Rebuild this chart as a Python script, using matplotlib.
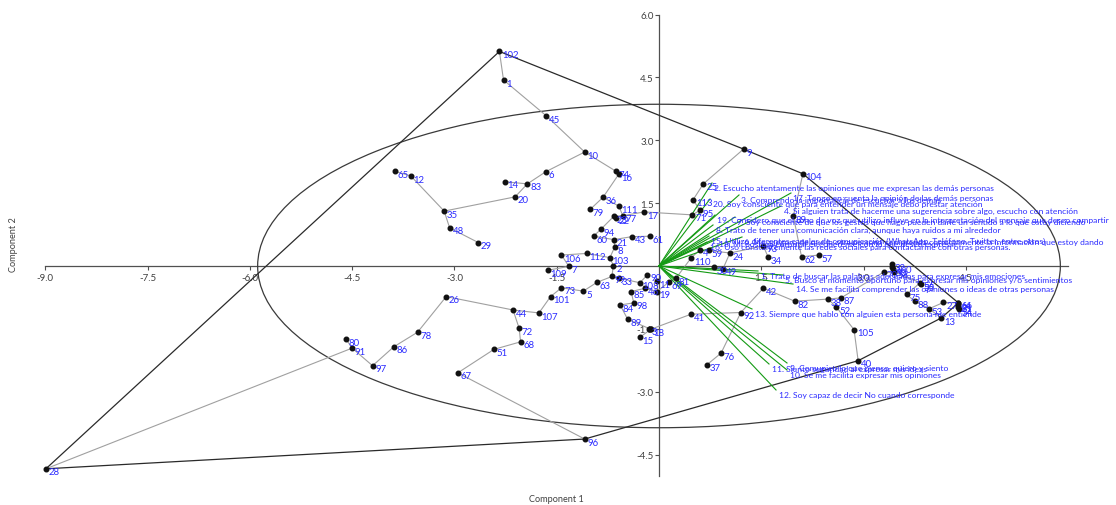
import matplotlib
matplotlib.use("Agg")
import matplotlib.pyplot as plt
from matplotlib.patches import Ellipse

plt.rcParams['font.family'] = ['Lato', 'DejaVu Sans']
plt.rcParams['axes.unicode_minus'] = False

# ---------------- data ----------------
point_ids = list(range(1, 114))
comp1 = [-2.28, -0.67, -0.15, 0.60, -1.11, -1.66, -1.32, -0.65, 1.24, -1.09,
         -0.03, -3.64, 4.14, -2.26, -0.28, -0.59, -0.22, -0.12, -0.03, -2.11,
         -0.66, -0.63, -0.66, 1.04, 0.65, -3.12, 4.17, -8.99, -2.65, 0.80,
         4.39, 3.42, -0.59, 1.60, -3.15, -0.82, 0.70, 2.48, 1.97, 2.92,
         0.47, 1.53, -0.40, -2.14, -1.65, -0.20, 4.39, -3.07, 0.94, 3.43,
         -2.42, 2.60, 3.96, 4.40, 3.84, 3.83, 2.34, 3.45, 0.73, -0.96,
         -0.13, 2.09, -0.91, 4.38, -3.87, 4.39, -2.95, -2.03, 0.14, 3.30,
         0.49, -2.05, -1.43, -0.63, 3.63, 0.91, -0.53, -3.54, -1.01, -4.59,
         0.25, 1.99, -1.93, -0.57, -0.41, -3.89, 2.67, 3.75, -0.46, -0.17,
         -4.50, 1.20, 1.53, -0.85, 0.60, -1.09, -4.20, -0.37, -0.69, 3.42,
         -1.59, -2.34, -0.72, 2.11, 2.86, -1.43, -1.76, -0.28, -1.63, 0.47,
         -0.59, -1.06, 0.50]
comp2 = [4.44, 0.01, -1.50, 0.39, -0.60, 2.25, -0.01, 0.45, 2.79, 2.72,
         -0.36, 2.15, -1.24, 2.01, -1.70, 2.19, 1.29, -1.51, -0.61, 1.65,
         0.63, 1.15, 1.19, 0.31, 1.96, -0.73, -0.87, -4.84, 0.56, -0.03,
         -0.93, 0.04, -0.29, 0.21, 1.31, 1.64, -2.36, -0.79, 1.19, -2.26,
         -1.15, -0.53, 0.70, -1.05, 3.58, -0.53, -0.98, 0.91, -0.06, -0.08,
         -1.99, -0.98, -1.02, -1.03, -0.43, -0.40, 0.26, -0.14, 0.37, 0.71,
         0.71, 0.22, -0.39, -0.88, 2.26, -0.88, -2.55, -1.81, -0.39, -0.14,
         1.22, -1.49, -0.52, 2.26, -0.68, -2.08, 1.20, -1.58, 1.35, -1.74,
         -0.29, -0.84, 1.96, -0.93, -0.61, -1.93, -0.76, -0.84, -1.27, -0.21,
         -1.96, -1.11, 0.48, 0.88, 1.33, -4.13, -2.38, -0.88, -0.25, -0.02,
         -0.73, 5.12, 0.20, 2.20, -1.52, 0.26, -1.12, -0.40, -0.10, 0.19,
         1.43, 0.30, 1.58]

# minimum spanning tree edges (point ids)
mst_edges = [(102, 1), (1, 45), (45, 10), (10, 6), (6, 83), (83, 14), (83, 20),
             (20, 35), (35, 12), (12, 65), (35, 48), (48, 29), (10, 74), (74, 16),
             (16, 36), (36, 79), (36, 111), (111, 77), (77, 23), (23, 22), (77, 17),
             (17, 71), (71, 95), (95, 113), (113, 25), (25, 9), (23, 94), (94, 60),
             (60, 21), (21, 43), (43, 61), (21, 8), (8, 103), (103, 112), (112, 106),
             (106, 7), (7, 109), (103, 2), (2, 99), (99, 33), (99, 63), (63, 5),
             (5, 73), (73, 101), (101, 107), (107, 44), (44, 26), (26, 78), (78, 86),
             (86, 97), (97, 91), (91, 80), (91, 28), (44, 72), (72, 68), (68, 51),
             (51, 67), (67, 96), (33, 108), (108, 90), (108, 46), (46, 19), (46, 85),
             (85, 98), (98, 84), (84, 89), (89, 18), (18, 3), (18, 15), (18, 41),
             (41, 92), (92, 76), (76, 37), (92, 42), (42, 82), (82, 38), (38, 87),
             (38, 52), (52, 105), (105, 40), (87, 70), (70, 58), (58, 50), (50, 100),
             (100, 32), (58, 56), (56, 55), (56, 75), (75, 88), (88, 53), (53, 27),
             (27, 66), (66, 64), (66, 31), (66, 47), (47, 54), (53, 13), (19, 11),
             (19, 69), (69, 81), (81, 110), (110, 4), (4, 59), (59, 24), (24, 49),
             (49, 30), (24, 93), (93, 34), (104, 39), (39, 62), (62, 57)]

# convex hull (point ids, closed)
hull_ids = [28, 102, 9, 104, 66, 13, 40, 96, 28]

# 95% ellipse (semi axes on Component 1 / Component 2)
ellipse_width = 2 * 5.885
ellipse_height = 2 * 3.86

# biplot variables
var_labels = [
    "1. Trato de buscar las palabras adecuadas para expresar mis emociones",
    "2. Escucho atentamente las opiniones que me expresan las demás personas",
    "3. Comprendo la importancia de escuchar a los demás",
    "4. Si alguien trata de hacerme una sugerencia sobre algo, escucho con atención",
    "5. Busco el momento oportuno para expresar mis opiniones y/o sentimientos",
    "6. Me aseguro de que la otra persona comprenda correctamente la información que estoy dando",
    "7. Soy consciente de que los gestos que hago pueden darle un sentido a lo que estoy diciendo",
    "8. Trato de tener una comunicación clara, aunque haya ruidos a mi alrededor",
    "9. Comunico lo que pienso, quiero y siento",
    "10. Se me facilita expresar mis opiniones",
    "11. Siento seguridad al expresar mis ideas",
    "12. Soy capaz de decir No cuando corresponde",
    "13. Siempre que hablo con alguien esta persona me entiende",
    "14. Se me facilita comprender las opiniones o ideas de otras personas",
    "15. Utilizo diferentes canales de comunicación (WhatsApp, Teléfono, Twitter, entre otros)",
    "16. Uso constantemente las redes sociales para contactarme con otras personas.",
    "17. Tengo en cuenta la opinión de las demás personas",
    "18. Mi postura corporal es coherente con lo que deseo expresar",
    "19. Considero que el tono de voz que utilizo influye en la interpretación del mensaje que deseo compartir",
    "20. Soy consciente que para entender un mensaje debo prestar atención",
]
var_x = [1.452, 0.777, 1.173, 1.789, 1.818, 1.217, 1.114, 0.792, 1.877, 1.877,
         1.613, 1.716, 1.364, 1.965, 0.733, 0.704, 1.935, 0.850, 0.821, 0.748]
var_y = [-0.119, 1.981, 1.695, 1.432, -0.215, 0.692, 1.169, 0.979, -2.315, -2.482,
         -2.339, -2.959, -1.026, -0.430, 0.716, 0.573, 1.742, 0.644, 1.217, 1.599]

x_ticks = [-9.0, -7.5, -6.0, -4.5, -3.0, -1.5, 1.5, 3.0, 4.5]
y_ticks = [6.0, 4.5, 3.0, 1.5, -1.5, -3.0, -4.5]

# ---------------- plot ----------------
fig = plt.figure(figsize=(11.16, 5.06), dpi=100)
ax = fig.add_axes([0, 0, 1, 1])
ax.set_xlim(-9.663, 6.701)
ax.set_ylim(-5.704, 6.372)

for s in ['top', 'right']:
    ax.spines[s].set_visible(False)
ax.spines['left'].set_position(('data', 0))
ax.spines['bottom'].set_position(('data', 0))
ax.spines['bottom'].set_bounds(-9, 6)
ax.spines['left'].set_bounds(-5, 6)
for s in ['left', 'bottom']:
    ax.spines[s].set_color('#505050')
    ax.spines[s].set_linewidth(0.9)
    ax.spines[s].set_zorder(1)

ax.set_xticks(x_ticks)
ax.set_xticklabels([f"{t:.1f}" for t in x_ticks])
ax.set_yticks(y_ticks)
ax.set_yticklabels([f"{t:.1f}" for t in y_ticks])
ax.tick_params(axis='both', direction='out', length=3, width=0.8, color='#505050',
               labelsize=7.0, labelcolor='#404040')
ax.tick_params(axis='x', pad=2.0)
ax.tick_params(axis='y', pad=1.0)
ax.patch.set_visible(False)

pos = {pid: (x, y) for pid, x, y in zip(point_ids, comp1, comp2)}

# ellipse
ax.add_patch(Ellipse((0, 0), ellipse_width, ellipse_height, fill=False,
                     edgecolor='#3a3a3a', linewidth=0.9, zorder=2))

# hull
ax.plot([pos[i][0] for i in hull_ids], [pos[i][1] for i in hull_ids],
        color='#2a2a2a', linewidth=0.9, zorder=3)

# MST
for a, b in mst_edges:
    ax.plot([pos[a][0], pos[b][0]], [pos[a][1], pos[b][1]],
            color='#a0a0a0', linewidth=0.8, zorder=3)

# biplot vectors
for vx, vy in zip(var_x, var_y):
    ax.plot([0, vx], [0, vy], color='#139a13', linewidth=0.8, zorder=4)

# points
ax.plot(comp1, comp2, linestyle='none', marker='o', markersize=3.3,
        color='#111111', zorder=5)

for pid, x, y in zip(point_ids, comp1, comp2):
    ax.annotate(str(pid), (x, y), xytext=(2.0, 1.0), textcoords='offset points',
                ha='left', va='top', fontsize=6.9, color='#2b2bff', zorder=6)

for lab, vx, vy in zip(var_labels, var_x, var_y):
    ax.annotate(lab, (vx, vy), xytext=(1.8, -0.4), textcoords='offset points',
                ha='left', va='top', fontsize=6.1, color='#2b2bff', zorder=6)

fig.text(556 / 1116, 1 - 500 / 506, "Component 1", ha='center', va='center',
         fontsize=6.6, color='#404040')
fig.text(14 / 1116, 1 - 245 / 506, "Component 2", ha='center', va='center',
         rotation=90, fontsize=6.6, color='#404040')

fig.savefig("out.png", dpi=100)
